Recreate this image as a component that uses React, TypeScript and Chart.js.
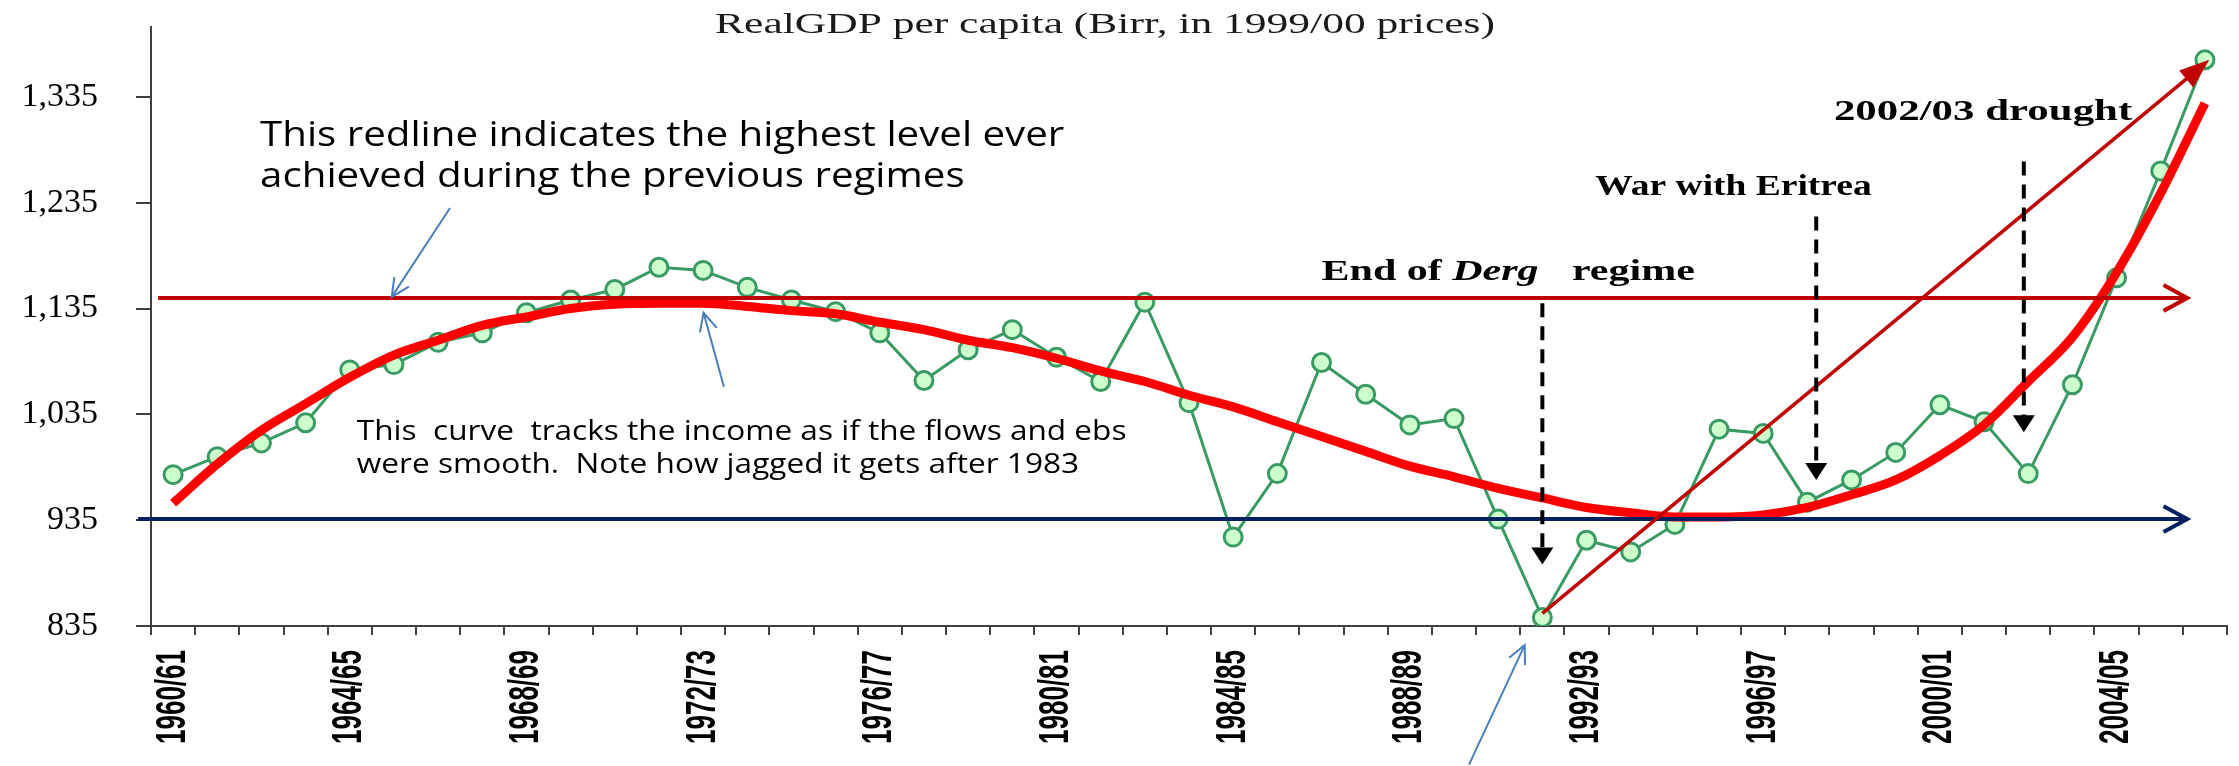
import React, { useEffect, useRef } from 'react';
import { Chart, registerables } from 'chart.js';

Chart.register(...registerables);

// ---------------- data ----------------
const categories = [
  '1960/61', '1961/62', '1962/63', '1963/64', '1964/65', '1965/66', '1966/67', '1967/68', '1968/69', '1969/70',
  '1970/71', '1971/72', '1972/73', '1973/74', '1974/75', '1975/76', '1976/77', '1977/78', '1978/79', '1979/80',
  '1980/81', '1981/82', '1982/83', '1983/84', '1984/85', '1985/86', '1986/87', '1987/88', '1988/89', '1989/90',
  '1990/91', '1991/92', '1992/93', '1993/94', '1994/95', '1995/96', '1996/97', '1997/98', '1998/99', '1999/00',
  '2000/01', '2001/02', '2002/03', '2003/04', '2004/05', '2005/06', '2006/07',
];

const shownXLabels = [
  '1960/61', '1964/65', '1968/69', '1972/73', '1976/77', '1980/81',
  '1984/85', '1988/89', '1992/93', '1996/97', '2000/01', '2004/05',
];

const gdpPerCapita = [
  978, 995, 1008, 1027, 1077, 1082, 1103, 1112, 1131, 1143,
  1153, 1174, 1171, 1155, 1143, 1132, 1112, 1067, 1096, 1115,
  1089, 1066, 1141, 1046, 919, 979, 1084, 1054, 1025, 1031,
  936, 843, 916, 905, 931, 1021, 1017, 952, 973, 999,
  1044, 1028, 979, 1063, 1164, 1265, 1370,
];

const smoothTrend = [
  951, 988, 1020, 1045, 1070, 1091, 1105, 1119, 1127, 1135,
  1139, 1140, 1140, 1137, 1133, 1130, 1122, 1115, 1105, 1098,
  1088, 1076, 1066, 1053, 1042, 1028, 1014, 1000, 986, 976,
  965, 956, 947, 942, 938, 938, 940, 947, 959, 973,
  996, 1025, 1066, 1108, 1169, 1244, 1329,
];

const yTicks = [835, 935, 1035, 1135, 1235, 1335];
const yMin = 835;
const yMax = 1401;

// annotation values (in data coordinates: category index, value)
const highestLevel = 1145;
const baseLevel = 936;
const lineStartIndex = -0.34;
const baseStartIndex = -0.79;
const lineEndIndex = 45.6;
const growthFrom = [31, 847];
const growthTo = [46.1, 1370];
const eventArrows = [
  { x: 31, top: 1140, tip: 893 },
  { x: 37.2, top: 1222, tip: 973 },
  { x: 41.9, top: 1274, tip: 1018 },
];
const blueArrows = [
  { from: [6.27, 1230], to: [4.95, 1146] },
  { from: [12.47, 1061], to: [12.01, 1131] },
  { from: [29.34, 704], to: [30.6, 817] },
];

const titleText = 'RealGDP per capita (Birr, in 1999/00 prices)';
const note1 = ['This redline indicates the highest level ever', 'achieved during the previous regimes'];
const note1Pos = [[1.97, 1289], [1.97, 1250]];
const note2 = ['This  curve  tracks the income as if the flows and ebs', 'were smooth.  Note how jagged it gets after 1983'];
const note2Pos = [[4.16, 1011], [4.16, 980]];
const dergPos = [26.0, 1169];
const regimePos = [31.67, 1169];
const warPos = [32.2, 1250];
const droughtPos = [37.6, 1320];

// ---------------- helpers ----------------
function openHead(ctx: any, tx: number, ty: number, angle: number, len: number, spread: number) {
  ctx.beginPath();
  ctx.moveTo(tx - len * Math.cos(angle - spread), ty - len * Math.sin(angle - spread));
  ctx.lineTo(tx, ty);
  ctx.lineTo(tx - len * Math.cos(angle + spread), ty - len * Math.sin(angle + spread));
  ctx.stroke();
}

function filledHead(ctx: any, tx: number, ty: number, angle: number, len: number, half: number) {
  const bx = tx - len * Math.cos(angle);
  const by = ty - len * Math.sin(angle);
  const nx = -Math.sin(angle);
  const ny = Math.cos(angle);
  ctx.beginPath();
  ctx.moveTo(tx, ty);
  ctx.lineTo(bx + nx * half, by + ny * half);
  ctx.lineTo(bx - nx * half, by - ny * half);
  ctx.closePath();
  ctx.fill();
}

function scaledText(ctx: any, text: string, x: number, y: number, font: string, sx: number, align = 'left', color = '#000', baseline = 'middle') {
  ctx.save();
  ctx.font = font;
  ctx.fillStyle = color;
  ctx.textAlign = align;
  ctx.textBaseline = baseline;
  ctx.translate(x, y);
  ctx.scale(sx, 1);
  ctx.fillText(text, 0, 0);
  ctx.restore();
}

const annotationPlugin = {
  id: 'customAnnotations',
  afterDatasetsDraw(chart: any) {
    const { ctx } = chart;
    const xs = chart.scales.x;
    const ys = chart.scales.y;
    const px = (i: number) => xs.getPixelForValue(i);
    const py = (v: number) => ys.getPixelForValue(v);
    ctx.save();
    ctx.lineCap = 'butt';

    // highest level red line
    ctx.strokeStyle = '#C00000';
    ctx.lineWidth = 4;
    ctx.beginPath();
    ctx.moveTo(px(lineStartIndex), py(highestLevel));
    ctx.lineTo(px(lineEndIndex), py(highestLevel));
    ctx.stroke();
    openHead(ctx, px(lineEndIndex), py(highestLevel), 0, 27, 0.5);

    // base navy line
    ctx.strokeStyle = '#002060';
    ctx.lineWidth = 4;
    ctx.beginPath();
    ctx.moveTo(px(baseStartIndex), py(baseLevel));
    ctx.lineTo(px(lineEndIndex), py(baseLevel));
    ctx.stroke();
    openHead(ctx, px(lineEndIndex), py(baseLevel), 0, 27, 0.5);

    // diagonal growth arrow
    const gx0 = px(growthFrom[0]);
    const gy0 = py(growthFrom[1]);
    const gx1 = px(growthTo[0]);
    const gy1 = py(growthTo[1]);
    const ga = Math.atan2(gy1 - gy0, gx1 - gx0);
    ctx.strokeStyle = '#C00000';
    ctx.fillStyle = '#C00000';
    ctx.lineWidth = 3.5;
    ctx.beginPath();
    ctx.moveTo(gx0, gy0);
    ctx.lineTo(gx1 - 20 * Math.cos(ga), gy1 - 20 * Math.sin(ga));
    ctx.stroke();
    filledHead(ctx, gx1, gy1, ga, 30, 11);

    // dashed event arrows
    ctx.strokeStyle = '#000';
    ctx.fillStyle = '#000';
    ctx.lineWidth = 4;
    for (const a of eventArrows) {
      const x = px(a.x);
      const yt = py(a.top);
      const yTip = py(a.tip);
      ctx.setLineDash([14, 9]);
      ctx.beginPath();
      ctx.moveTo(x, yt);
      ctx.lineTo(x, yTip - 16);
      ctx.stroke();
      ctx.setLineDash([]);
      filledHead(ctx, x, yTip, Math.PI / 2, 17, 11);
    }

    // thin blue pointer arrows
    ctx.strokeStyle = '#4A7EBB';
    ctx.lineWidth = 2;
    for (const b of blueArrows) {
      const x0 = px(b.from[0]);
      const y0 = py(b.from[1]);
      const x1 = px(b.to[0]);
      const y1 = py(b.to[1]);
      ctx.beginPath();
      ctx.moveTo(x0, y0);
      ctx.lineTo(x1, y1);
      ctx.stroke();
      openHead(ctx, x1, y1, Math.atan2(y1 - y0, x1 - x0), 20, 0.45);
    }
    ctx.restore();
  },
  afterDraw(chart: any) {
    const { ctx } = chart;
    const xs = chart.scales.x;
    const ys = chart.scales.y;
    const px = (i: number) => xs.getPixelForValue(i);
    const py = (v: number) => ys.getPixelForValue(v);

    // title
    scaledText(ctx, titleText, 1105, 25, '29px "Liberation Serif"', 1.5, 'center', '#1a1a1a');

    // x labels (rotated, condensed)
    ctx.save();
    ctx.fillStyle = '#000';
    ctx.font = 'bold 26px "Liberation Sans"';
    ctx.textAlign = 'right';
    ctx.textBaseline = 'middle';
    categories.forEach((c, i) => {
      if (!shownXLabels.includes(c)) return;
      ctx.save();
      ctx.translate(px(i), xs.top + 24);
      ctx.rotate(-Math.PI / 2);
      ctx.scale(1, 1.6);
      ctx.fillText(c, 0, 0);
      ctx.restore();
    });
    ctx.restore();

    // notes (sans)
    note1.forEach((t, k) => {
      scaledText(ctx, t, px(note1Pos[k][0]), py(note1Pos[k][1]), '35px "Open Sans"', 1.15, 'left', '#000', 'alphabetic');
    });
    note2.forEach((t, k) => {
      scaledText(ctx, t, px(note2Pos[k][0]), py(note2Pos[k][1]), '27px "Open Sans"', 1.17, 'left', '#000', 'alphabetic');
    });

    // bold serif event labels
    const bf = 'bold 30px "Liberation Serif"';
    const bif = 'italic bold 30px "Liberation Serif"';
    const dx = px(dergPos[0]);
    const dy = py(dergPos[1]);
    ctx.save();
    ctx.font = bf;
    const w1 = ctx.measureText('End of ').width * 1.4;
    ctx.restore();
    scaledText(ctx, 'End of ', dx, dy, bf, 1.4);
    scaledText(ctx, 'Derg', dx + w1, dy, bif, 1.4);
    scaledText(ctx, 'regime', px(regimePos[0]), py(regimePos[1]), bf, 1.4);
    scaledText(ctx, 'War with Eritrea', px(warPos[0]), py(warPos[1]), bf, 1.25);
    scaledText(ctx, '2002/03 drought', px(droughtPos[0]), py(droughtPos[1]), bf, 1.43);
  },
};

export default function App() {
  const canvasRef = useRef<HTMLCanvasElement | null>(null);

  useEffect(() => {
    if (!canvasRef.current) return;
    const chart = new Chart(canvasRef.current, {
      type: 'line',
      data: {
        labels: categories,
        datasets: [
          {
            label: 'Smoothed trend',
            data: smoothTrend,
            borderColor: '#FF0000',
            borderWidth: 9,
            pointRadius: 0,
            cubicInterpolationMode: 'monotone',
            fill: false,
            order: 0,
          },
          {
            label: 'Real GDP per capita',
            data: gdpPerCapita,
            borderColor: '#3A9A64',
            borderWidth: 3,
            pointRadius: 9,
            pointBackgroundColor: '#CCFFCC',
            pointBorderColor: '#3A9A64',
            pointBorderWidth: 3,
            tension: 0,
            fill: false,
            order: 1,
          },
        ],
      },
      options: {
        responsive: false,
        animation: false,
        devicePixelRatio: 1,
        layout: { padding: { top: 27, right: 10, left: 0, bottom: 0 } },
        plugins: {
          legend: { display: false },
          title: { display: false },
          tooltip: { enabled: false },
        },
        scales: {
          x: {
            type: 'category',
            offset: true,
            grid: {
              display: true,
              offset: true,
              drawOnChartArea: false,
              drawTicks: true,
              tickLength: 9,
              color: '#404040',
              lineWidth: 2,
            },
            border: { display: true, color: '#404040', width: 2 },
            ticks: { display: false, autoSkip: false },
            afterFit: (s: any) => {
              s.height = 140;
              s.paddingLeft = 0;
              s.paddingRight = 0;
            },
          },
          y: {
            min: yMin,
            max: yMax,
            afterBuildTicks: (s: any) => {
              s.ticks = yTicks.map((v) => ({ value: v }));
            },
            grid: {
              drawOnChartArea: false,
              drawTicks: true,
              tickLength: 15,
              color: '#404040',
              lineWidth: 2,
            },
            border: { display: true, color: '#404040', width: 2 },
            ticks: {
              padding: 38,
              color: '#000',
              font: { family: '"Liberation Serif"', size: 34 },
              callback: (v: any) => Number(v).toLocaleString('en-US'),
            },
            afterFit: (s: any) => {
              s.width = 151;
              s.paddingTop = 0;
              s.paddingBottom = 0;
            },
          },
        },
      } as any,
      plugins: [annotationPlugin],
    });
    return () => chart.destroy();
  }, []);

  return (
    <div style={{ position: 'absolute', left: 0, top: 0, width: 2239, height: 766, background: '#fff' }}>
      <canvas ref={canvasRef} width={2239} height={766} style={{ display: 'block' }} />
    </div>
  );
}
